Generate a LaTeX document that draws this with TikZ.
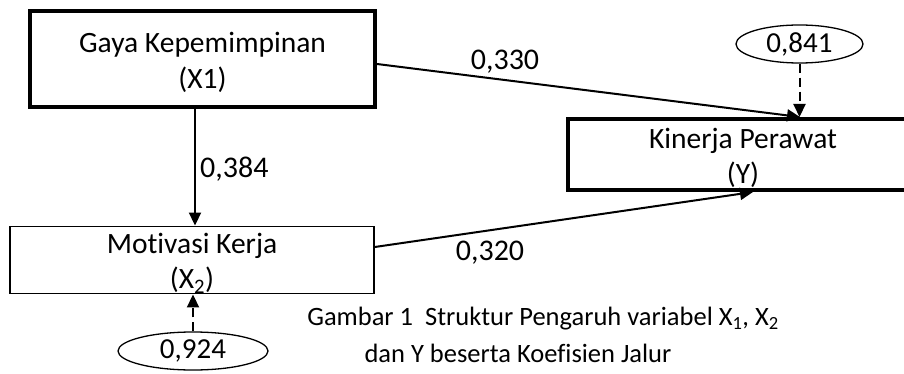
\documentclass[tikz,border=0pt]{standalone}
\usepackage{fontspec}
\setmainfont[Ligatures=NoCommon]{Carlito}
\usetikzlibrary{shapes.geometric,arrows.meta}
\begin{document}
\begin{tikzpicture}[x=1pt,y=-1pt,
  box/.style={draw,rectangle,inner sep=0pt,align=center,font=\fontsize{29.5}{35.5}\selectfont},
  thickbox/.style={box,line width=4pt},
  thinbox/.style={box,line width=1.6pt},
  oval/.style={draw,ellipse,line width=1.3pt,inner sep=0pt,minimum height=38pt,font=\fontsize{29}{34}\selectfont},
  lbl/.style={inner sep=0pt,font=\fontsize{30}{34}\selectfont},
  captxt/.style={inner sep=0pt,font=\fontsize{26.5}{30}\selectfont},
  arr/.style={line width=2pt,-{Triangle[length=13pt,width=12pt]}},
  darr/.style={arr,dash pattern=on 9pt off 5pt}]
\useasboundingbox (0,0) rectangle (904,374);
\node[thickbox,minimum width=345pt,minimum height=96pt] (x1) at (202.5,59) {\rule{0pt}{27pt}Gaya Kepemimpinan\\(X1)};
\node[thinbox,minimum width=364pt,minimum height=62pt] (x2) at (192,260) {\rule{0pt}{27pt}Motivasi Kerja\\(X\textsubscript{2})};
\node[thickbox,minimum width=350pt,minimum height=71pt] (y) at (743,154.5) {\rule{0pt}{27pt}Kinerja Perawat\\(Y)};
\node[oval,minimum width=127pt] (e1) at (799.5,44) {0,841};
\node[oval,minimum width=150pt] (e2) at (193,351) {0,924};
\draw[arr] ([xshift=-7.5pt]x1.south) -- ([xshift=-7.5pt]x1.south |- x2.north);
\draw[arr] ([yshift=-5pt]x1.east) -- ([xshift=57pt]y.north);
\draw[darr] (e1.south) -- (e1.south |- y.north);
\draw[arr] ([yshift=13pt]x2.east) -- ([xshift=10pt]y.south);
\draw[darr] (e2.north) -- (e2.north |- x2.south);
\node[lbl,anchor=west] (l1) at (200,169) {0,384};
\node[lbl] (l2) at (505,62) {0,330};
\node[lbl] (l3) at (490,253) {0,320};
\node[captxt] (c1) at (543,319) {Gambar 1\ \ Struktur Pengaruh variabel X\textsubscript{1}, X\textsubscript{2}};
\node[captxt] (c2) at (518,353) {dan Y beserta Koefisien Jalur};
\end{tikzpicture}
\end{document}
